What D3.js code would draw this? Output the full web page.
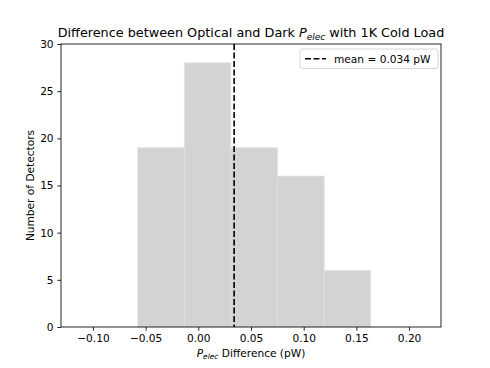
<!DOCTYPE html>
<html>
<head>
<meta charset="utf-8">
<script src="https://cdn.jsdelivr.net/npm/d3@7"></script>
<style>
  body { margin: 0; background: #fff; }
  text { font-family: "DejaVu Sans", sans-serif; fill: #000; }
</style>
</head>
<body>
<script>
// histogram bins (edges in pW) and counts
let binEdges = [-0.0575, -0.0133, 0.0309, 0.0751, 0.1194, 0.1636];
let counts = [19, 28, 19, 16, 6];
let meanVal = 0.034;
let xTicks = [-0.10, -0.05, 0.00, 0.05, 0.10, 0.15, 0.20];
let yTicks = [0, 5, 10, 15, 20, 25, 30];

let width = 490,
    height = 368;

let margin = {left: 61, right: 49, top: 44, bottom: 41};

let svg = d3.select("body").append("svg")
    .attr("width", width)
    .attr("height", height);

let x = d3.scaleLinear()
    .domain([-0.1303, 0.2303])
    .range([margin.left, width - margin.right]);

let y = d3.scaleLinear()
    .domain([0, 30])
    .range([height - margin.bottom, margin.top]);

let bins = counts.map((c, i) => ({x0: binEdges[i], x1: binEdges[i + 1], n: c}));

svg.selectAll(".bar")
    .data(bins)
    .enter().append("rect")
    .attr("class", "bar")
    .attr("x", d => x(d.x0))
    .attr("y", d => y(d.n))
    .attr("width", d => x(d.x1) - x(d.x0))
    .attr("height", d => y(0) - y(d.n))
    .attr("fill", "#d3d3d3")
    .attr("stroke", "#e2e2e2")
    .attr("stroke-width", 0.8);

// mean line
svg.append("line")
    .attr("x1", x(meanVal)).attr("x2", x(meanVal))
    .attr("y1", y(30)).attr("y2", y(0))
    .attr("stroke", "#000")
    .attr("stroke-width", 1.6)
    .attr("stroke-dasharray", "5.9,2.6");

// axes
let xAxis = svg.append("g")
    .attr("transform", "translate(0," + y(0) + ")")
    .call(d3.axisBottom(x).tickValues(xTicks).tickSize(3.7).tickPadding(3.7)
        .tickFormat(d => d3.format(".2f")(d).replace("-", "\u2212")));

let yAxis = svg.append("g")
    .attr("transform", "translate(" + x.range()[0] + ",0)")
    .call(d3.axisLeft(y).tickValues(yTicks).tickSize(3.7).tickPadding(3.7));

[xAxis, yAxis].forEach(g => {
    g.selectAll("text").style("font-size", "10.6px").attr("fill", "#000");
    g.selectAll("line").attr("stroke", "#000").attr("stroke-width", 0.85);
    g.select(".domain").remove();
});

// frame
svg.append("rect")
    .attr("x", x.range()[0])
    .attr("y", y.range()[1])
    .attr("width", x.range()[1] - x.range()[0])
    .attr("height", y.range()[0] - y.range()[1])
    .attr("fill", "none")
    .attr("stroke", "#000")
    .attr("stroke-width", 0.85);

// title
let title = svg.append("text")
    .attr("x", (x.range()[0] + x.range()[1]) / 2)
    .attr("y", 37)
    .attr("text-anchor", "middle")
    .style("font-size", "12.8px");
title.append("tspan").text("Difference between Optical and Dark ");
title.append("tspan").attr("font-style", "italic").text("P");
title.append("tspan").attr("font-style", "italic").attr("dy", 2.7).style("font-size", "9px").text("elec");
title.append("tspan").attr("dy", -2.7).text(" with 1K Cold Load");

// x label
let xl = svg.append("text")
    .attr("x", (x.range()[0] + x.range()[1]) / 2)
    .attr("y", 357)
    .attr("text-anchor", "middle")
    .style("font-size", "10.6px");
xl.append("tspan").attr("font-style", "italic").text("P");
xl.append("tspan").attr("font-style", "italic").attr("dy", 2.2).style("font-size", "7.5px").text("elec");
xl.append("tspan").attr("dy", -2.2).text(" Difference (pW)");

// y label
svg.append("text")
    .attr("transform", "translate(34," + ((y.range()[0] + y.range()[1]) / 2) + ") rotate(-90)")
    .attr("text-anchor", "middle")
    .style("font-size", "10.6px")
    .text("Number of Detectors");

// legend
let lg = svg.append("g").attr("transform", "translate(300,49)");
lg.append("rect")
    .attr("width", 138).attr("height", 19.5)
    .attr("rx", 2.5)
    .attr("fill", "#fff")
    .attr("fill-opacity", 0.8)
    .attr("stroke", "#cccccc")
    .attr("stroke-width", 0.8);
lg.append("line")
    .attr("x1", 5).attr("x2", 26)
    .attr("y1", 9.8).attr("y2", 9.8)
    .attr("stroke", "#000")
    .attr("stroke-width", 1.6)
    .attr("stroke-dasharray", "5.9,2.6");
lg.append("text")
    .attr("x", 34).attr("y", 13.6)
    .style("font-size", "10.6px")
    .text("mean = " + meanVal + " pW");
</script>
</body>
</html>
